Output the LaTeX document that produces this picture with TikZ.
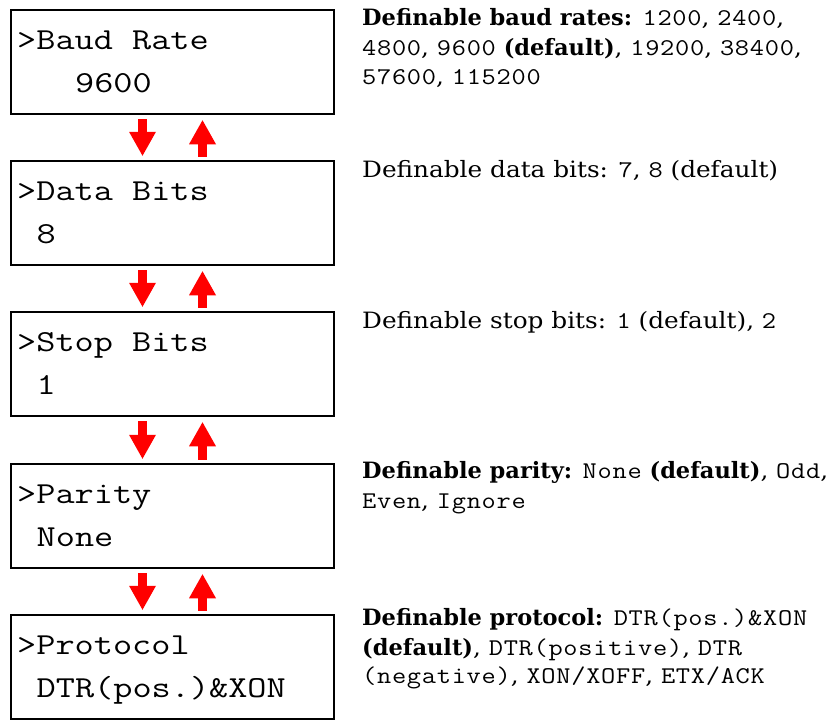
\documentclass[tikz,border=0pt]{standalone}
\usepackage{fontspec}
\setmainfont{DejaVu Serif}[FakeStretch=1.1]
\newfontfamily\dvs{DejaVu Serif}
\newfontfamily\boxmono{Latin Modern Mono}[FakeStretch=1.22]
\newfontfamily\rmono{Latin Modern Mono}[FakeStretch=1.15,LetterSpace=3]
\usetikzlibrary{arrows.meta}
\newcommand{\mt}[1]{{\fontsize{24}{29.5}\rmono #1}}
\newcommand{\bt}[1]{{\dvs\bfseries #1}}
\begin{document}
\begin{tikzpicture}[x=1pt,y=-1pt,
  lcd/.style={draw, line width=2.5pt, minimum width=323pt, minimum height=104pt, inner sep=0pt},
  lcdtext/.style={anchor=base west, inner sep=0pt, font=\fontsize{30.5}{32}\boxmono},
  desc/.style={anchor=base west, inner sep=0pt, font=\fontsize{22.5}{29.5}\selectfont},
  dnarrow/.style={draw=red, line width=9pt, -{Triangle[width=27pt,length=24pt,line width=0pt]}},
]
\useasboundingbox (0,0) rectangle (836,720);

% LCD boxes
\node[lcd] (b1) at (172.5,62) {};
\node[lcd] (b2) at (172.5,213) {};
\node[lcd] (b3) at (172.5,364) {};
\node[lcd] (b4) at (172.5,516) {};
\node[lcd] (b5) at (172.5,667) {};

% LCD text
\node[lcdtext] (t1a) at (17,49) {>Baud Rate};
\node[lcdtext] (t1b) at (75,92) {9600};
\node[lcdtext] (t2a) at (17,200) {>Data Bits};
\node[lcdtext] (t2b) at (36.5,243) {8};
\node[lcdtext] (t3a) at (17,351) {>Stop Bits};
\node[lcdtext] (t3b) at (36.5,394) {1};
\node[lcdtext] (t4a) at (17,503) {>Parity};
\node[lcdtext] (t4b) at (36.5,546) {None};
\node[lcdtext] (t5a) at (17,654) {>Protocol};
\node[lcdtext] (t5b) at (36.5,697) {DTR(pos.)\&XON};

% arrows
\foreach \a/\b in {b1/b2,b2/b3,b3/b4,b4/b5}{
  \draw[dnarrow] ([xshift=-30pt,yshift=-4pt]\a.south) -- ([xshift=-30pt,yshift=4pt]\b.north);
  \draw[dnarrow] ([xshift=30pt,yshift=3pt]\b.north) -- ([xshift=30pt,yshift=-5pt]\a.south);
}

% descriptions
\node[desc] (d1a) at (362,25) {\bt{Definable baud rates:} \mt{1200}, \mt{2400},};
\node[desc] (d1b) at (362,55) {\mt{4800}, \mt{9600} \bt{(default)}, \mt{19200}, \mt{38400},};
\node[desc] (d1c) at (362,84) {\mt{57600}, \mt{115200}};

\node[desc] (d2a) at (362,177) {Definable data bits: \mt{7}, \mt{8} (default)};

\node[desc] (d3a) at (362,328) {Definable stop bits: \mt{1} (default), \mt{2}};

\node[desc] (d4a) at (362,478) {\bt{Definable parity:} \mt{None} \bt{(default)}, \mt{Odd},};
\node[desc] (d4b) at (362,508) {\mt{Even}, \mt{Ignore}};

\node[desc] (d5a) at (362,625) {\bt{Definable protocol:} \mt{DTR(pos.)\&XON}};
\node[desc] (d5b) at (362,655) {\bt{(default)}, \mt{DTR(positive)}, \mt{DTR}};
\node[desc] (d5c) at (362,683) {\mt{(negative)}, \mt{XON/XOFF}, \mt{ETX/ACK}};
\end{tikzpicture}
\end{document}
